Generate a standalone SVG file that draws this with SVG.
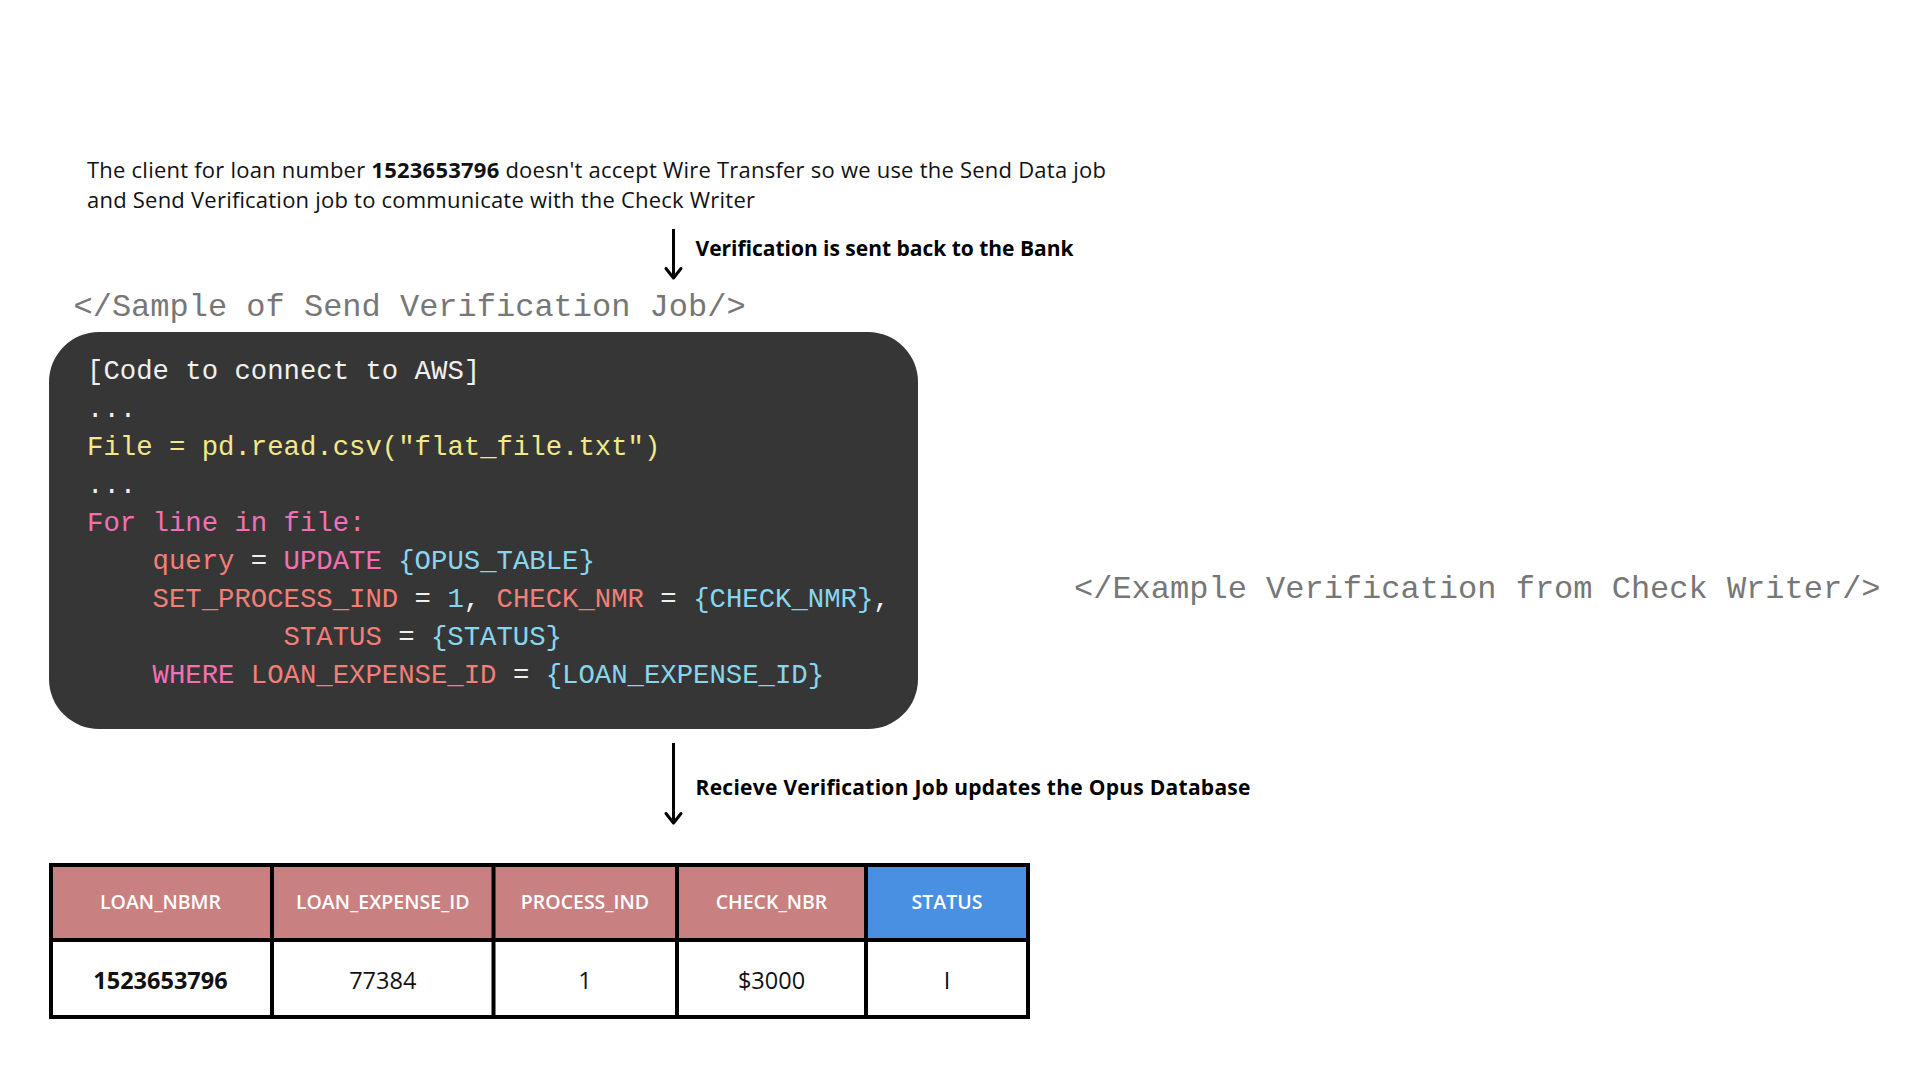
<svg xmlns="http://www.w3.org/2000/svg" width="1920" height="1080" viewBox="0 0 1920 1080">
<defs>
<style>
.sans{font-family:"Open Sans","Liberation Sans",sans-serif;fill:#111}
.lbl{font-family:"Open Sans","Liberation Sans",sans-serif;font-weight:700;font-size:21px;fill:#000}
.mono{font-family:"Liberation Mono","Courier New",monospace}
.gray{font-size:32px;fill:#777}
.code{font-size:27.3px}
.w{fill:#f0f0f0}.y{fill:#f3e88a}.p{fill:#f470b4}.s{fill:#f27f78}.b{fill:#88d6ee}
.hdr{font-family:"Open Sans","Liberation Sans",sans-serif;font-weight:600;font-size:19.5px;fill:#fff;text-anchor:middle}
.cell{font-family:"Open Sans","Liberation Sans",sans-serif;font-size:23.5px;fill:#111;text-anchor:middle}
.grid{fill:none;stroke:#000;stroke-width:4}
.conn{stroke:#000;stroke-width:3;fill:none}
</style>
</defs>
<rect width="1920" height="1080" fill="#fff"/>

<g id="intro">
<text class="sans" x="87" y="178" font-size="22" textLength="1019" lengthAdjust="spacing">The client for loan number  <tspan font-weight="700">1523653796</tspan> doesn't accept Wire Transfer so we use the Send Data job</text>
<text class="sans" x="87" y="208" font-size="22" textLength="668" lengthAdjust="spacing">and Send Verification job to communicate with the Check Writer</text>
</g>

<g id="connectors">
<line class="conn" x1="673.5" y1="229" x2="673.5" y2="276"/>
<path class="conn" d="M666,268.5 L673.5,278 L681,268.5" stroke-width="3.5" stroke-linecap="round" stroke-linejoin="round"/>
<line class="conn" x1="673.5" y1="743" x2="673.5" y2="821"/>
<path class="conn" d="M666,813.5 L673.5,823 L681,813.5" stroke-width="3.5" stroke-linecap="round" stroke-linejoin="round"/>
</g>

<g id="label-bank">
<text class="lbl" x="695.5" y="256" textLength="378" lengthAdjust="spacing">Verification is sent back to the Bank</text>
</g>
<g id="label-opus">
<text class="lbl" x="695.5" y="795" textLength="555" lengthAdjust="spacing">Recieve Verification Job updates the Opus Database</text>
</g>

<g id="sample-title">
<text class="mono gray" x="73.5" y="316">&lt;/Sample of Send Verification Job/&gt;</text>
</g>

<g id="example-title">
<text class="mono gray" x="1074" y="598">&lt;/Example Verification from Check Writer/&gt;</text>
</g>

<g id="code-block">
<rect x="49" y="332" width="869" height="397" rx="50" ry="50" fill="#363636"/>
<g class="mono code" xml:space="preserve">
<text x="87" y="379" class="w">[Code to connect to AWS]</text>
<text x="87" y="417" class="w">...</text>
<text x="87" y="455" class="y">File = pd.read.csv("flat_file.txt")</text>
<text x="87" y="493" class="w">...</text>
<text x="87" y="531" class="p">For line in file:</text>
<text x="152.5" y="569"><tspan class="s">query</tspan><tspan class="w"> = </tspan><tspan class="p">UPDATE</tspan><tspan class="b"> {OPUS_TABLE}</tspan></text>
<text x="152.5" y="607"><tspan class="s">SET_PROCESS_IND</tspan><tspan class="w"> = </tspan><tspan class="b">1</tspan><tspan class="w">, </tspan><tspan class="s">CHECK_NMR</tspan><tspan class="w"> = </tspan><tspan class="b">{CHECK_NMR}</tspan><tspan class="w">,</tspan></text>
<text x="283.5" y="645"><tspan class="s">STATUS</tspan><tspan class="w"> = </tspan><tspan class="b">{STATUS}</tspan></text>
<text x="152.5" y="683"><tspan class="p">WHERE</tspan><tspan class="s"> LOAN_EXPENSE_ID</tspan><tspan class="w"> = </tspan><tspan class="b">{LOAN_EXPENSE_ID}</tspan></text>
</g>
</g>

<g id="table">
<rect x="51" y="865" width="815" height="75" fill="#c98080"/>
<rect x="866" y="865" width="162" height="75" fill="#4a90e2"/>
<rect x="51" y="940" width="977" height="77" fill="#fff"/>
<rect class="grid" x="51" y="865" width="977" height="152"/>
<line class="grid" x1="51" y1="940" x2="1028" y2="940"/>
<line class="grid" x1="272" y1="865" x2="272" y2="1017"/>
<line class="grid" x1="493.5" y1="865" x2="493.5" y2="1017"/>
<line class="grid" x1="677" y1="865" x2="677" y2="1017"/>
<line class="grid" x1="866" y1="865" x2="866" y2="1017"/>
<text class="hdr" x="160.5" y="909">LOAN_NBMR</text>
<text class="hdr" x="382.75" y="909">LOAN_EXPENSE_ID</text>
<text class="hdr" x="585" y="909">PROCESS_IND</text>
<text class="hdr" x="771.5" y="909">CHECK_NBR</text>
<text class="hdr" x="947" y="909">STATUS</text>
<text class="cell" x="160.5" y="989" font-weight="700">1523653796</text>
<text class="cell" x="382.75" y="989">77384</text>
<text class="cell" x="585" y="989">1</text>
<text class="cell" x="771.5" y="989">$3000</text>
<text class="cell" x="947" y="989">I</text>
</g>
</svg>
